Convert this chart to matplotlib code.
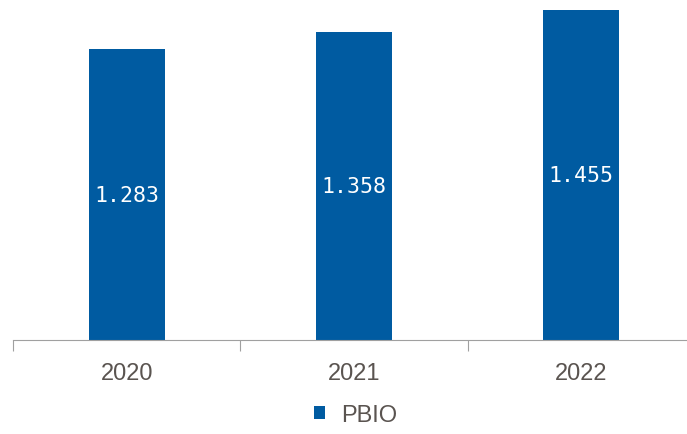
import matplotlib.pyplot as plt

# datos del grafico
anios = ['2020', '2021', '2022']
pbio = [1.283, 1.358, 1.455]
etiquetas = ['1.283', '1.358', '1.455']

azul = '#005BA1'
gris = '#5A5450'

fig = plt.figure(figsize=(6.87, 4.35), dpi=100)
ax = fig.add_axes([0.019, 0.2161, 0.9926, 0.7664])

x = range(len(anios))
barras = ax.bar(x, pbio, width=0.335, color=azul, label='PBIO')

# etiquetas blancas en el centro de cada barra
for b, txt in zip(barras, etiquetas):
    ax.text(b.get_x() + b.get_width() / 2, b.get_height() / 2, txt,
            ha='center', va='center', color='white', fontsize=15.5,
            family='DejaVu Sans Mono')

ax.set_xlim(-0.5, 2.5)
ax.set_ylim(0, 1.47)
ax.set_yticks([])

for lado in ['top', 'right', 'left']:
    ax.spines[lado].set_visible(False)
ax.spines['bottom'].set_color('#A0A0A0')

# marcas entre categorias
ax.set_xticks([-0.5, 0.5, 1.5, 2.5])
ax.set_xticklabels([])
ax.tick_params(axis='x', which='major', length=8, color='#A0A0A0')
ax.set_xticks(list(x), minor=True)
ax.set_xticklabels(anios, minor=True, fontsize=17, color=gris,
                   family='Liberation Sans')
ax.tick_params(axis='x', which='minor', length=0, pad=16)

fig.legend(loc='center', bbox_to_anchor=(0.518, 0.044), frameon=False,
           handlelength=0.47, handleheight=0.47, handletextpad=0.68,
           prop={'family': 'Liberation Sans', 'size': 17},
           labelcolor=gris)

plt.savefig('out.png', dpi=100)
